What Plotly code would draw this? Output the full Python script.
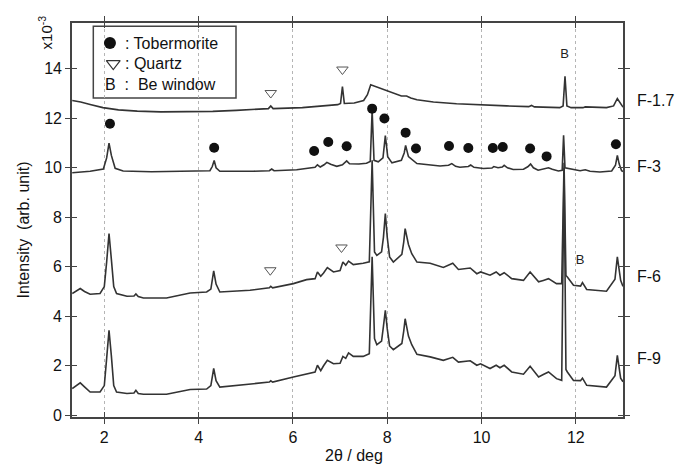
import plotly.graph_objects as go

# ---------------- data ----------------
x_f17 = [1.32, 1.5, 1.7, 1.97, 2.3, 2.7, 3.2, 3.75, 4.3, 4.8,
         5.3, 5.48, 5.53, 5.58, 6.2, 6.6, 6.95, 7.01, 7.05, 7.09,
         7.3, 7.5, 7.58, 7.65, 7.72, 7.85, 8.06, 8.3, 8.41, 8.5,
         8.63, 8.98, 9.47, 10.04, 10.53, 11.0, 11.06, 11.12, 11.66, 11.73,
         11.77, 11.81, 11.9, 12.15, 12.2, 12.65, 12.8, 12.88, 12.95, 13.0]
y_f17 = [12.72, 12.66, 12.56, 12.43, 12.34, 12.29, 12.26, 12.26, 12.28, 12.32,
         12.37, 12.39, 12.5, 12.39, 12.43, 12.48, 12.55, 12.6, 13.28, 12.6,
         12.62, 12.72, 12.95, 13.35, 13.3, 13.2, 13.06, 12.9, 12.9, 12.82,
         12.75, 12.66, 12.59, 12.53, 12.5, 12.47, 12.52, 12.46, 12.43, 12.5,
         13.7, 12.5, 12.43, 12.43, 12.46, 12.43, 12.5, 12.8, 12.57, 12.45]

x_f3 = [1.32, 1.7, 1.98, 2.05, 2.1, 2.15, 2.23, 2.4, 3.0, 3.75,
        4.24, 4.29, 4.33, 4.37, 4.45, 5.16, 5.5, 5.55, 5.6, 6.08,
        6.36, 6.47, 6.52, 6.58, 6.66, 6.72, 6.8, 6.93, 7.05, 7.1,
        7.14, 7.2, 7.4, 7.56, 7.64, 7.68, 7.72, 7.81, 7.91, 7.96,
        8.01, 8.1, 8.3, 8.36, 8.39, 8.45, 8.63, 9.12, 9.3, 9.37,
        9.45, 9.54, 9.72, 9.77, 9.84, 10.04, 10.22, 10.26, 10.35, 10.44,
        10.48, 10.55, 10.67, 10.89, 10.98, 11.04, 11.1, 11.2, 11.35, 11.42,
        11.5, 11.63, 11.71, 11.74, 11.77, 11.88, 12.09, 12.2, 12.3, 12.51,
        12.76, 12.84, 12.88, 12.92, 12.97, 13.0]
y_f3 = [9.8, 9.86, 9.95, 10.4, 11.0, 10.5, 9.98, 9.87, 9.84, 9.85,
        9.88, 10.05, 10.3, 10.0, 9.86, 9.86, 9.88, 9.95, 9.88, 9.92,
        9.98, 10.02, 10.12, 10.03, 10.12, 10.22, 10.14, 10.06, 10.12, 10.2,
        10.28, 10.16, 10.15, 10.18, 10.25, 12.32, 10.3, 10.24, 10.4, 11.3,
        10.45, 10.2, 10.3, 10.6, 10.9, 10.45, 10.17, 10.07, 10.1, 10.17,
        10.06, 10.02, 10.05, 10.11, 10.02, 9.97, 9.99, 10.05, 10.0, 10.03,
        10.1, 10.0, 9.93, 9.94, 10.04, 10.15, 10.0, 9.9, 9.95, 10.0,
        9.94, 9.87, 9.9, 11.31, 10.0, 9.96, 9.88, 9.92, 9.86, 9.83,
        9.87, 10.1, 10.5, 10.15, 9.88, 9.85]

x_low = [1.32, 1.42, 1.49, 1.58, 1.7, 1.91, 2.0, 2.05, 2.1, 2.15,
         2.2, 2.26, 2.48, 2.63, 2.67, 2.72, 2.83, 3.32, 3.82, 4.17,
         4.26, 4.32, 4.37, 4.45, 5.09, 5.5, 5.53, 5.57, 6.01, 6.29,
         6.47, 6.52, 6.59, 6.65, 6.73, 6.86, 7.0, 7.06, 7.12, 7.18,
         7.28, 7.49, 7.62, 7.68, 7.73, 7.78, 7.88, 7.92, 7.96, 8.0,
         8.05, 8.13, 8.31, 8.35, 8.38, 8.45, 8.52, 8.63, 8.91, 9.19,
         9.39, 9.51, 9.76, 9.9, 9.98, 10.18, 10.31, 10.39, 10.48, 10.64,
         10.89, 11.03, 11.21, 11.31, 11.42, 11.59, 11.7, 11.75, 11.79, 11.82,
         11.95, 12.1, 12.14, 12.23, 12.65, 12.83, 12.88, 12.95, 13.0]
y_f6 = [4.92, 5.05, 5.12, 5.0, 4.89, 4.92, 5.2, 6.2, 7.34, 6.3,
        5.2, 4.92, 4.81, 4.82, 4.9, 4.8, 4.74, 4.74, 4.94, 4.98,
        5.1, 5.83, 5.3, 4.98, 5.05, 5.15, 5.21, 5.15, 5.32, 5.48,
        5.52, 5.79, 5.62, 5.75, 5.97, 5.79, 5.85, 6.19, 6.06, 6.23,
        6.09, 6.14, 6.2, 10.3, 6.6, 6.46, 6.6, 7.2, 8.15, 7.2,
        6.4, 6.19, 6.5, 7.0, 7.54, 6.9, 6.53, 6.19, 6.14, 5.97,
        6.14, 5.89, 5.95, 5.72, 5.79, 5.66, 5.79, 5.66, 5.76, 5.52,
        5.45, 5.79, 5.39, 5.45, 5.52, 5.32, 5.32, 10.2, 5.65, 5.59,
        5.25, 5.22, 5.36, 5.08, 5.01, 5.5, 6.4, 5.45, 5.21]
y_f9 = [1.08, 1.22, 1.31, 1.15, 0.94, 0.94, 1.2, 2.3, 3.43, 2.4,
        1.2, 0.94, 0.88, 0.9, 1.01, 0.88, 0.85, 0.85, 1.04, 1.06,
        1.2, 1.89, 1.4, 1.14, 1.25, 1.34, 1.39, 1.34, 1.55, 1.68,
        1.75, 2.02, 1.8, 2.0, 2.22, 2.08, 2.1, 2.38, 2.3, 2.52,
        2.38, 2.38, 2.49, 6.4, 3.1, 2.85, 3.0, 3.6, 4.24, 3.5,
        2.8, 2.65, 2.9, 3.4, 3.9, 3.2, 2.85, 2.46, 2.36, 2.22,
        2.34, 2.15, 2.2, 2.02, 2.08, 1.89, 2.02, 1.92, 2.02, 1.75,
        1.66, 1.98, 1.55, 1.65, 1.75, 1.48, 1.41, 10.0, 1.85, 1.75,
        1.41, 1.4, 1.5, 1.21, 1.14, 1.6, 2.42, 1.5, 1.35]

tob_x = [2.12, 4.33, 6.45, 6.75, 7.14, 7.68, 7.94, 8.39, 8.61, 9.31,
         9.72, 10.24, 10.45, 11.03, 11.38, 12.85]
tob_y = [11.78, 10.81, 10.68, 11.04, 10.87, 12.39, 11.99, 11.42, 10.78, 10.88,
         10.80, 10.80, 10.84, 10.78, 10.46, 10.95]

qtz_x = [5.53, 7.05, 5.52, 7.03]
qtz_y = [13.02, 13.97, 5.86, 6.78]

be_x = [11.76, 12.09]
be_y = [14.55, 6.24]

sample_names = ["F-1.7", "F-3", "F-6", "F-9"]
sample_label_y = [12.73, 10.06, 5.6, 2.3]

x_ticks = [2, 4, 6, 8, 10, 12]
y_ticks = [0, 2, 4, 6, 8, 10, 12, 14]

X_RANGE = [1.315, 13.0]
Y_RANGE = [-0.07, 15.85]

# ---------------- figure ----------------
FONT = "Liberation Sans, Arial, sans-serif"
LINE = "#333333"
AX = "#444444"
TXT = "#111111"

fig = go.Figure()
for xs, ys in [(x_f17, y_f17), (x_f3, y_f3), (x_low, y_f6), (x_low, y_f9)]:
    fig.add_trace(go.Scatter(x=xs, y=ys, mode="lines",
                             line=dict(color=LINE, width=1.6),
                             showlegend=False, hoverinfo="skip"))

fig.add_trace(go.Scatter(x=tob_x, y=tob_y, mode="markers",
                         marker=dict(symbol="circle", size=10, color="#111111"),
                         showlegend=False, xaxis="x2", yaxis="y2"))
fig.add_trace(go.Scatter(x=qtz_x, y=qtz_y, mode="markers",
                         marker=dict(symbol="triangle-down-open", size=10,
                                     color="#555555", line=dict(width=1)),
                         showlegend=False, xaxis="x2", yaxis="y2"))
fig.add_trace(go.Scatter(x=be_x, y=be_y, mode="text", text=["B", "B"],
                         textfont=dict(family=FONT, size=13, color="#222"),
                         showlegend=False, xaxis="x2", yaxis="y2"))

# legend keys (box in upper left)
fig.add_trace(go.Scatter(x=[2.12], y=[15.04], mode="markers",
                         marker=dict(symbol="circle", size=12, color="#111111"),
                         showlegend=False, xaxis="x2", yaxis="y2"))
fig.add_trace(go.Scatter(x=[2.19], y=[14.21], mode="markers",
                         marker=dict(symbol="triangle-down-open", size=12,
                                     color="#333333", line=dict(width=1.2)),
                         showlegend=False, xaxis="x2", yaxis="y2"))

fig.add_shape(type="rect", xref="x", yref="y", x0=1.767, x1=4.793, y0=12.82, y1=15.72,
              line=dict(color="#444", width=1.5), fillcolor="white", layer="below")

annotations = []
for txt, yy in [(": Tobermorite", 15.04), (": Quartz", 14.21)]:
    annotations.append(dict(x=2.39, y=yy, xref="x", yref="y", text=txt, showarrow=False,
                            xanchor="left", yanchor="middle",
                            font=dict(family=FONT, size=16, color=TXT)))
annotations.append(dict(x=1.97, y=13.36, xref="x", yref="y", text="B  :  Be window",
                        showarrow=False, xanchor="left", yanchor="middle",
                        font=dict(family=FONT, size=16, color=TXT)))

for name, yy in zip(sample_names, sample_label_y):
    annotations.append(dict(x=1.022, y=yy, xref="paper", yref="y", text=name,
                            showarrow=False, xanchor="left", yanchor="middle",
                            font=dict(family=FONT, size=16, color=TXT)))

annotations.append(dict(x=-0.089, y=0.476, xref="paper", yref="paper",
                        text="Intensity  (arb. unit)", textangle=-90, showarrow=False,
                        xanchor="center", yanchor="middle",
                        font=dict(family=FONT, size=16, color=TXT)))
annotations.append(dict(x=-0.049, y=0.976, xref="paper", yref="paper",
                        text="x10<sup>-3</sup>", textangle=-90, showarrow=False,
                        xanchor="center", yanchor="middle",
                        font=dict(family=FONT, size=15, color=TXT)))
annotations.append(dict(x=0.512, y=-0.097, xref="paper", yref="paper",
                        text="2θ / deg", showarrow=False,
                        xanchor="center", yanchor="middle",
                        font=dict(family=FONT, size=16, color=TXT)))

fig.update_layout(
    width=678, height=468,
    margin=dict(l=72, r=55, t=23, b=51),
    paper_bgcolor="white", plot_bgcolor="white",
    annotations=annotations,
    xaxis=dict(range=X_RANGE, tickvals=x_ticks, ticks="outside", ticklen=5,
               tickwidth=1.3, tickcolor=AX, showline=True, linecolor=AX, linewidth=1.6,
               mirror="ticks", showgrid=True, gridcolor="#b5b5b5", griddash="dot",
               gridwidth=1, zeroline=False,
               tickfont=dict(family=FONT, size=16, color=TXT)),
    yaxis=dict(range=Y_RANGE, tickvals=y_ticks, ticks="outside", ticklen=5,
               tickwidth=1.3, tickcolor=AX, showline=True, linecolor=AX, linewidth=1.6,
               mirror="ticks", showgrid=False, zeroline=False,
               tickfont=dict(family=FONT, size=16, color=TXT)),
    xaxis2=dict(range=X_RANGE, overlaying="x", tickvals=x_ticks, ticks="inside",
                ticklen=5, tickwidth=1.3, tickcolor=AX, showline=False, mirror="ticks",
                showgrid=False, zeroline=False, showticklabels=False),
    yaxis2=dict(range=Y_RANGE, overlaying="y", tickvals=y_ticks, ticks="inside",
                ticklen=5, tickwidth=1.3, tickcolor=AX, showline=False, mirror="ticks",
                showgrid=False, zeroline=False, showticklabels=False),
)

fig.write_html("out.html", config={"displayModeBar": False},
               post_script="document.body.style.margin='0';document.body.style.padding='0';")
